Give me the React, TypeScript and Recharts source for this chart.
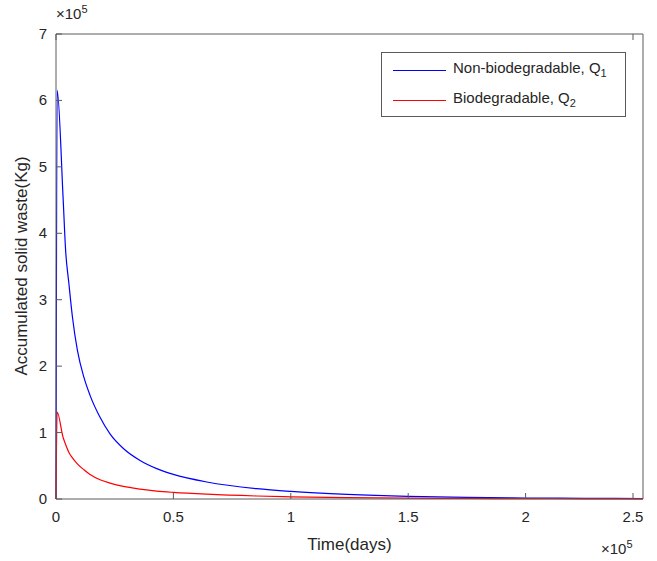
import React from "react";
import { LineChart, Line, XAxis, YAxis, Label } from "recharts";

const timeDays = [0, 500, 3000, 4100, 5500, 7000, 9100, 11900, 14500, 18750, 23000, 28700, 35800, 42900, 50000, 64200, 85500, 100000, 124000, 150000, 175000, 200000, 225000, 250000];
const nonBiodegradable = [0, 615000, 455000, 374000, 324000, 274000, 224000, 183000, 156000, 123000, 98000, 76000, 58000, 45700, 37000, 25600, 15600, 11500, 7000, 4000, 2500, 1500, 1000, 700];
const biodegradable = [0, 131000, 93000, 82000, 70000, 62000, 53000, 44000, 37000, 29000, 24000, 19000, 15000, 12000, 10000, 7200, 4500, 3300, 2000, 1200, 800, 500, 300, 200];

const xTicks = [0, 50000, 100000, 150000, 200000, 250000];
const yTicks = [0, 100000, 200000, 300000, 400000, 500000, 600000, 700000];

const data = timeDays.map((t, i) => ({ t, q1: nonBiodegradable[i], q2: biodegradable[i] }));

const AXIS = "#5a5a5a";
const TEXT = "#262626";
const FONT = "'Liberation Sans', Arial, Helvetica, sans-serif";
const TICK = 6;

const fmt = (v: number) => String(v / 100000);

function LeftTick(props: any) {
  const { x, y, payload } = props;
  return (
    <g>
      <line x1={x} y1={y} x2={x + TICK} y2={y} stroke={AXIS} />
      <text x={x - 9} y={y + 5} textAnchor="end" fontSize={15} fill={TEXT} fontFamily={FONT}>
        {fmt(payload.value)}
      </text>
    </g>
  );
}

function RightTick(props: any) {
  const { x, y } = props;
  return <line x1={x} y1={y} x2={x - TICK} y2={y} stroke={AXIS} />;
}

function BottomTick(props: any) {
  const { x, y, payload } = props;
  return (
    <g>
      <line x1={x} y1={y} x2={x} y2={y - TICK} stroke={AXIS} />
      <text x={x} y={y + 23} textAnchor="middle" fontSize={15} fill={TEXT} fontFamily={FONT}>
        {fmt(payload.value)}
      </text>
    </g>
  );
}

function TopTick(props: any) {
  const { x, y } = props;
  return <line x1={x} y1={y} x2={x} y2={y + TICK} stroke={AXIS} />;
}

function LegendBox() {
  const row = (color: string, label: string, sub: string) => (
    <div style={{ display: "flex", alignItems: "center", height: 30 }}>
      <div style={{ width: 53, height: 0, borderTop: `1.5px solid ${color}`, marginLeft: 11, marginRight: 7 }} />
      <span>
        {label}
        <sub style={{ fontSize: 11 }}>{sub}</sub>
      </span>
    </div>
  );
  return (
    <div
      style={{
        position: "absolute",
        left: 381,
        top: 52,
        border: "1px solid #5a5a5a",
        background: "#fff",
        width: 245,
        height: 65,
        boxSizing: "border-box",
        paddingTop: 2,
        fontFamily: FONT,
        fontSize: 15,
        color: TEXT,
        lineHeight: "15px",
      }}
    >
      {row("#0000ff", "Non-biodegradable, Q", "1")}
      {row("#ff0000", "Biodegradable, Q", "2")}
    </div>
  );
}

export default function App() {
  return (
    <div style={{ position: "absolute", left: 0, top: 0, width: 657, height: 561, background: "#fff" }}>
      <LineChart width={657} height={561} data={data} margin={{ top: 33, right: 13, left: 10, bottom: 7 }}>
        <XAxis
          xAxisId="b"
          dataKey="t"
          type="number"
          domain={[0, 250000]}
          ticks={xTicks}
          tick={<BottomTick />}
          tickLine={false}
          tickSize={0}
          tickMargin={0}
          height={55}
          axisLine={{ stroke: AXIS }}
        >
          <Label
            content={({ viewBox }: any) => (
              <text
                x={viewBox.x + viewBox.width / 2}
                y={viewBox.y + 51}
                textAnchor="middle"
                fontSize={17}
                fill={TEXT}
                fontFamily={FONT}
              >
                Time(days)
              </text>
            )}
          />
        </XAxis>
        <XAxis
          xAxisId="top"
          orientation="top"
          type="number"
          domain={[0, 250000]}
          ticks={xTicks}
          tick={<TopTick />}
          tickLine={false}
          tickSize={0}
          tickMargin={0}
          height={1}
          axisLine={{ stroke: AXIS }}
        />
        <YAxis
          yAxisId="l"
          type="number"
          domain={[0, 700000]}
          ticks={yTicks}
          tick={<LeftTick />}
          tickLine={false}
          tickSize={0}
          tickMargin={0}
          width={46}
          axisLine={{ stroke: AXIS }}
        >
          <Label
            content={() => (
              <text
                x={27}
                y={266}
                transform="rotate(-90 27 266)"
                textAnchor="middle"
                fontSize={17}
                fill={TEXT}
                fontFamily={FONT}
              >
                Accumulated solid waste(Kg)
              </text>
            )}
          />
        </YAxis>
        <YAxis
          yAxisId="r"
          orientation="right"
          type="number"
          domain={[0, 700000]}
          ticks={yTicks}
          tick={<RightTick />}
          tickLine={false}
          tickSize={0}
          tickMargin={0}
          width={1}
          axisLine={{ stroke: AXIS }}
        />
        <Line
          xAxisId="b"
          yAxisId="l"
          dataKey="q1"
          type="monotone"
          stroke="#0000ff"
          strokeWidth={1.2}
          dot={false}
          isAnimationActive={false}
        />
        <Line
          xAxisId="b"
          yAxisId="l"
          dataKey="q2"
          type="monotone"
          stroke="#ff0000"
          strokeWidth={1.2}
          dot={false}
          isAnimationActive={false}
        />
      </LineChart>
      <LegendBox />
      <div style={{ position: "absolute", left: 56, top: 3, fontFamily: FONT, fontSize: 15, color: TEXT }}>
        ×10<sup style={{ fontSize: 11 }}>5</sup>
      </div>
      <div style={{ position: "absolute", left: 601, top: 538, fontFamily: FONT, fontSize: 15, color: TEXT }}>
        ×10<sup style={{ fontSize: 11 }}>5</sup>
      </div>
    </div>
  );
}
